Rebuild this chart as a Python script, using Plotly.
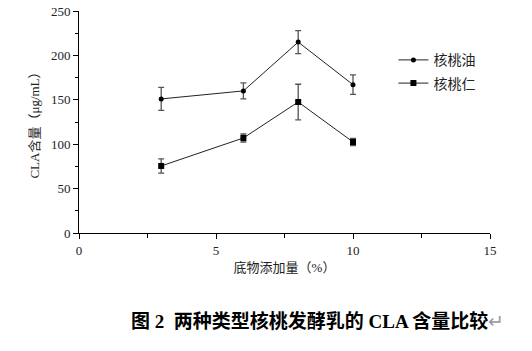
import plotly.graph_objects as go

x_vals = [3, 6, 8, 10]
oil_y = [151, 160, 215, 167]
oil_err = [13, 9, 13, 11]
kernel_y = [75.5, 107, 147.5, 102.5]
kernel_err = [8, 4.5, 20, 4]
series_names = ["核桃油", "核桃仁"]
x_ticks = [0, 5, 10, 15]
y_ticks = [0, 50, 100, 150, 200, 250]

FONT = "Liberation Serif, Noto Sans CJK SC, serif"

fig = go.Figure()
fig.add_trace(go.Scatter(
    x=x_vals, y=oil_y, name=series_names[0], mode="lines+markers",
    legendgroup="a",
    line=dict(color="#222", width=1),
    marker=dict(symbol="circle", size=5, color="black"),
    error_y=dict(type="data", array=oil_err, color="#555", thickness=1.3, width=3),
))
fig.add_trace(go.Scatter(
    x=x_vals, y=kernel_y, name=series_names[1], mode="lines+markers",
    legendgroup="b",
    line=dict(color="#222", width=1),
    marker=dict(symbol="square", size=6, color="black"),
    error_y=dict(type="data", array=kernel_err, color="#555", thickness=1.3, width=3),
))

axis_common = dict(
    showgrid=False, zeroline=False, showline=True, linecolor="black", linewidth=1,
    ticks="outside", ticklen=5, tickcolor="black", tickwidth=1, automargin=False,
    tickfont=dict(family=FONT, size=13, color="#222"),
)

fig.update_layout(
    width=532, height=351,
    margin=dict(l=79, r=42, t=11, b=118),
    paper_bgcolor="white", plot_bgcolor="white",
    font=dict(family=FONT, color="#222"),
    xaxis=dict(range=[0, 15], tickvals=x_ticks,
               minor=dict(tickvals=[2.5, 7.5, 12.5], ticks="outside", ticklen=4, tickcolor="black"),
               title=dict(text="底物添加量（%）", font=dict(family=FONT, size=13), standoff=6),
               **axis_common),
    yaxis=dict(range=[0, 250], tickvals=y_ticks,
               minor=dict(tickvals=[25, 75, 125, 175, 225], ticks="outside", ticklen=3, tickcolor="black"),
               title=dict(text="CLA含量（μg/mL）", font=dict(family=FONT, size=13), standoff=8),
               **axis_common),
    showlegend=True,
    legend=dict(x=0.765, y=0.85, xanchor="left", yanchor="top",
                font=dict(family=FONT, size=14), tracegroupgap=2, itemwidth=30,
                bgcolor="rgba(0,0,0,0)"),
    annotations=[dict(
        text="<b>图 2\u00a0\u00a0两种类型核桃发酵乳的 CLA 含量比较</b><span style='color:#999'>↵</span>",
        xref="paper", yref="paper", x=0.58, y=-0.34, xanchor="center", yanchor="top",
        showarrow=False, font=dict(family=FONT, size=19, color="black"),
    )],
)

fig.write_html("out.html")
